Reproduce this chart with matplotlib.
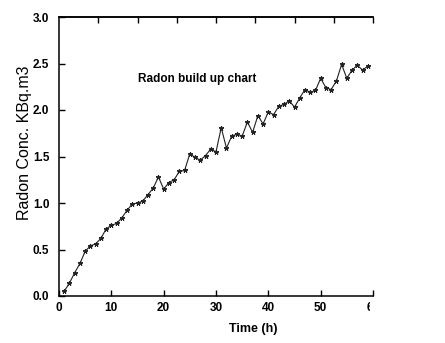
import matplotlib
matplotlib.use("Agg")
import matplotlib.pyplot as plt
from matplotlib.transforms import Bbox, TransformedBbox, IdentityTransform

time_h = list(range(1, 60))
radon = [0.05, 0.14, 0.25, 0.35, 0.48, 0.54, 0.56, 0.62, 0.72, 0.76,
         0.78, 0.84, 0.92, 0.99, 1.00, 1.02, 1.09, 1.16, 1.28, 1.15,
         1.22, 1.25, 1.34, 1.35, 1.53, 1.49, 1.46, 1.51, 1.58, 1.55,
         1.81, 1.59, 1.72, 1.74, 1.72, 1.87, 1.76, 1.94, 1.85, 1.98,
         1.95, 2.04, 2.06, 2.10, 2.03, 2.13, 2.22, 2.19, 2.21, 2.34,
         2.24, 2.22, 2.31, 2.49, 2.34, 2.43, 2.48, 2.43, 2.47]
xticks = [0, 10, 20, 30, 40, 50, 60]
yticks = [0.0, 0.5, 1.0, 1.5, 2.0, 2.5, 3.0]
top_ticks = [7.5, 15, 22.5, 30, 37.5, 45, 52.5, 60]

plt.rcParams['font.family'] = ['Liberation Sans', 'DejaVu Sans']

fig = plt.figure(figsize=(4.45, 3.43), dpi=100)
W, H = 445, 343
ax = fig.add_axes([59 / W, (H - 296) / H, 314 / W, 279 / H])

ax.plot(time_h, radon, color='#222222', lw=0.8, marker=(5, 2, 0), ms=3.5,
        mew=0.8, mec='#222222')

ax.set_xlim(0, 60)
ax.set_ylim(0, 3.0)
ax.set_xticks(xticks)
ax.set_yticks(yticks)
ax.set_xticklabels([str(v) for v in xticks], fontsize=8.5, fontweight='bold')
ax.set_yticklabels([f"{v:.1f}" for v in yticks], fontsize=8.5, fontweight='bold')
ax.tick_params(axis='x', direction='in', length=4, width=1, pad=4)
ax.tick_params(axis='y', direction='in', length=4, width=1, pad=7)
for s in ['left', 'bottom', 'top']:
    ax.spines[s].set_linewidth(1.1)
ax.spines['right'].set_visible(False)

sec = ax.secondary_xaxis('top')
sec.set_xticks(top_ticks)
sec.set_xticklabels([])
sec.tick_params(direction='in', length=4, width=1)
sec.spines['top'].set_linewidth(1.1)

ax.text(15, 2.33, "Radon build up chart", fontsize=8.5, fontweight='bold',
        va='center', ha='left')

fig.text(253 / W, 1 - 329 / H, "Time (h)", fontsize=9, fontweight='bold',
         ha='center', va='center')
fig.text(25 / W, 1 - 143 / H, "Radon Conc. KBq.m3", fontsize=11.5,
         rotation=90, ha='center', va='center')

clip = TransformedBbox(Bbox([[0, 0], [370, H]]), IdentityTransform())
for lab in ax.get_xticklabels():
    lab.set_clip_box(clip)
    lab.set_clip_on(True)

fig.savefig("out.png", dpi=100)
